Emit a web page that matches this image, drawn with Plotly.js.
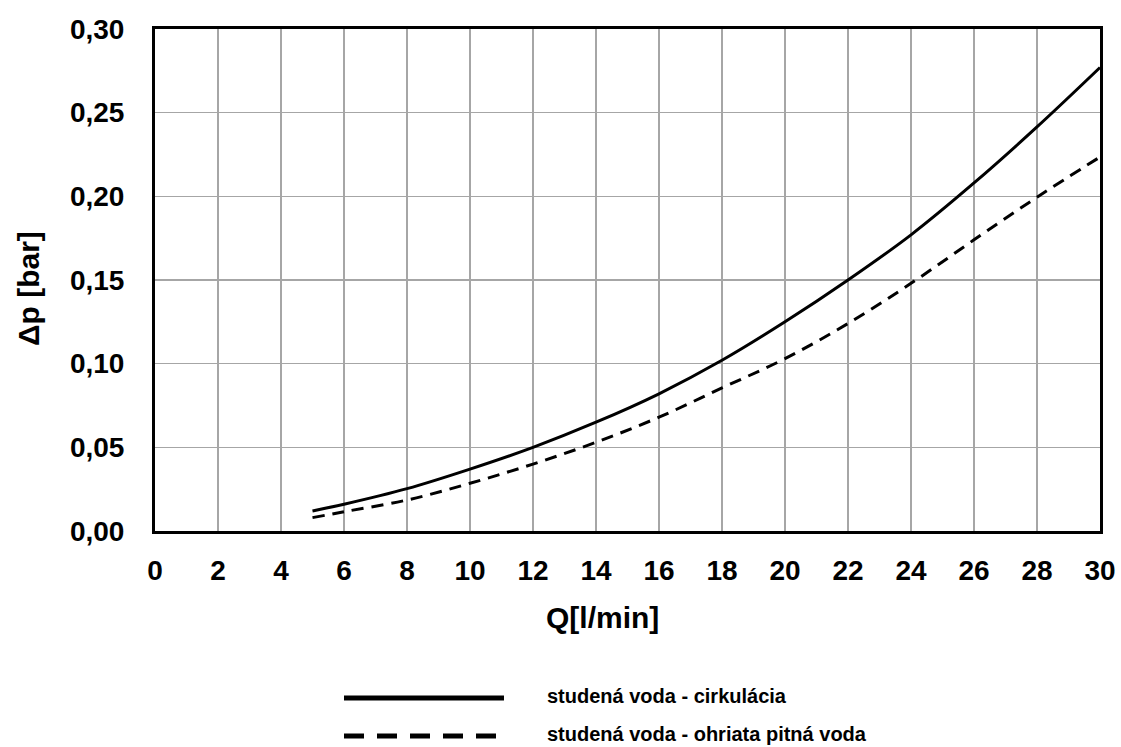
<!DOCTYPE html>
<html>
<head>
<meta charset="utf-8">
<script src="https://cdn.plot.ly/plotly-3.0.1.min.js"></script>
<style>html,body{margin:0;padding:0;background:#fff;}#chart{width:1121px;height:747px;}</style>
</head>
<body>
<div id="chart"></div>
<script>
const flowQ = [5, 6, 8, 10, 12, 14, 16, 18, 20, 22, 24, 26, 28, 30];
const dpCirculation = [0.012, 0.016, 0.0253, 0.037, 0.050, 0.065, 0.082, 0.102, 0.125, 0.150, 0.177, 0.208, 0.2415, 0.277];
const dpHotWater = [0.008, 0.0115, 0.0185, 0.0285, 0.040, 0.053, 0.068, 0.0855, 0.103, 0.124, 0.148, 0.174, 0.1995, 0.2235];
const seriesNames = ["studená voda - cirkulácia", "studená voda - ohriata pitná voda"];
const xTitle = "Q[l/min]";
const yTitle = "Δp [bar]";

const FONT = "Liberation Sans, Arial, sans-serif";

const traces = [
  {x: flowQ, y: dpCirculation, name: seriesNames[0], mode: "lines", line: {color: "#000", width: 3, shape: "spline", smoothing: 1}, showlegend: false},
  {x: flowQ, y: dpHotWater, name: seriesNames[1], mode: "lines", line: {color: "#000", width: 3, dash: "12px,8px", shape: "spline", smoothing: 1}, showlegend: false}
];

const layout = {
  width: 1121, height: 747,
  margin: {l: 155, r: 21, t: 29, b: 216},
  paper_bgcolor: "#fff", plot_bgcolor: "#fff",
  separators: ", ",
  font: {family: FONT, color: "#000", size: 28, weight: "bold"},
  xaxis: {
    range: [0, 30], dtick: 2, tick0: 0,
    showgrid: true, gridcolor: "#a6a6a6", gridwidth: 1.5,
    showline: true, linecolor: "#000", linewidth: 3, mirror: true,
    ticks: "", zeroline: false,
    tickfont: {family: FONT, size: 28, weight: "bold"},
    ticklabelstandoff: 12
  },
  yaxis: {
    range: [0, 0.30], dtick: 0.05, tick0: 0, tickformat: ".2f",
    showgrid: true, gridcolor: "#a6a6a6", gridwidth: 1.5,
    showline: true, linecolor: "#000", linewidth: 3, mirror: true,
    ticks: "", zeroline: false,
    tickfont: {family: FONT, size: 28, weight: "bold"},
    ticklabelstandoff: 22
  },
  shapes: [
    {type: "line", xref: "paper", yref: "paper", x0: 0.2, x1: 0.3693, y0: -0.3327, y1: -0.3327, line: {color: "#000", width: 5}},
    {type: "line", xref: "paper", yref: "paper", x0: 0.2, x1: 0.3693, y0: -0.4084, y1: -0.4084, line: {color: "#000", width: 5, dash: "20px,13px"}}
  ],
  annotations: [
    {text: xTitle, xref: "paper", yref: "paper", x: 0.474, y: -0.1733, showarrow: false, xanchor: "center", yanchor: "middle", font: {family: FONT, size: 30, weight: "bold"}},
    {text: yTitle, xref: "paper", yref: "paper", x: -0.1344, y: 0.484, showarrow: false, textangle: -90, xanchor: "center", yanchor: "middle", font: {family: FONT, size: 30, weight: "bold"}},
    {text: seriesNames[0], xref: "paper", yref: "paper", x: 0.4127, y: -0.3287, showarrow: false, xanchor: "left", yanchor: "middle", font: {family: FONT, size: 20, weight: "bold"}},
    {text: seriesNames[1], xref: "paper", yref: "paper", x: 0.4127, y: -0.4044, showarrow: false, xanchor: "left", yanchor: "middle", font: {family: FONT, size: 20, weight: "bold"}}
  ]
};

Plotly.newPlot("chart", traces, layout, {displayModeBar: false, staticPlot: true});
</script>
</body>
</html>
